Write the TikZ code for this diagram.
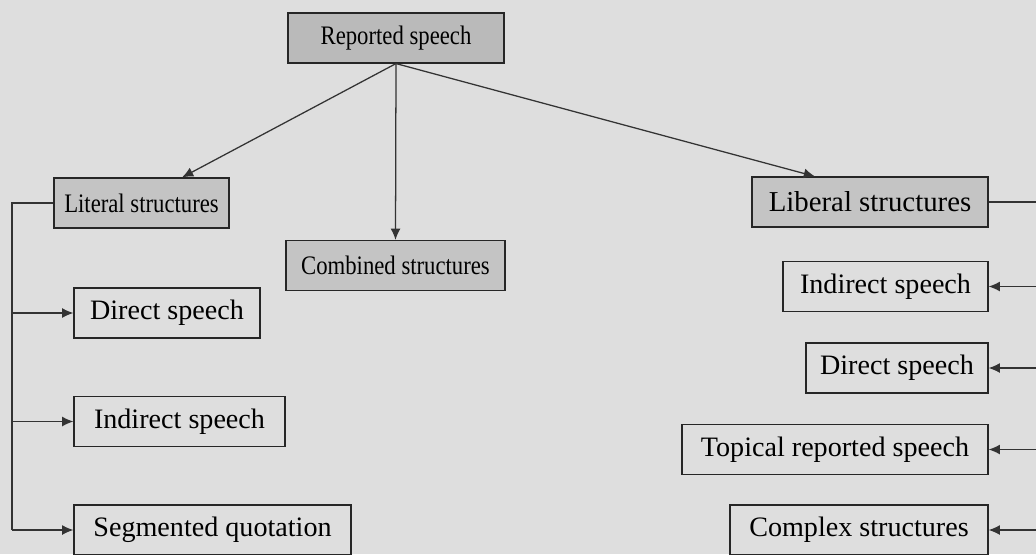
\documentclass[tikz,border=0pt]{standalone}
\usepackage{fontspec}
\usepackage{tikz}
\usetikzlibrary{arrows.meta}
\setmainfont{Liberation Serif}
\newfontfamily\condfont{Liberation Serif}[FakeStretch=0.85]
\definecolor{paper}{gray}{0.87}
\definecolor{boxgray}{gray}{0.77}
\tikzset{
  box/.style={draw=black!85, line width=0.8pt, minimum height=1.25cm,
    inner xsep=4pt, font=\fontsize{20}{24}\selectfont},
  fillbox/.style={box, fill=boxgray, font=\condfont\fontsize{19}{23}\selectfont},
  plainbox/.style={box, fill=paper},
  wd/.style={minimum width=#1*0.025cm},
  link/.style={draw=black!80, line width=0.9pt}
}

\begin{document}
\begin{tikzpicture}[x=0.025cm, y=-0.025cm]
        \fill [paper] (0, 0) rectangle (1036, 554);
        \useasboundingbox (0, 0) rectangle (1036, 554);

        % top level
        \node [fillbox, wd=216, fill=black!27] (rep) at (396, 38) {Reported speech};
        \node [fillbox, wd=175] (lit) at (141.5, 203) {Literal structures};
        \node [fillbox, wd=219] (comb) at (395.5, 265.5) {Combined structures};
        \node [box, fill=boxgray, wd=236, font=\fontsize{20.5}{24}\selectfont] (lib) at (870, 202) {Liberal structures};

        % left branch
        \node [plainbox, wd=186] (ldir) at (167, 313) {Direct speech};
        \node [plainbox, wd=211] (lind) at (179.5, 421.5) {Indirect speech};
        \node [plainbox, wd=277] (lseg) at (212.5, 530) {Segmented quotation};

        % right branch
        \node [plainbox, wd=205] (rind) at (885.5, 286.5) {Indirect speech};
        \node [plainbox, wd=182] (rdir) at (897, 368) {Direct speech};
        \node [plainbox, wd=306] (rtop) at (835, 449.5) {Topical reported speech};
        \node [plainbox, wd=258] (rcx) at (859, 530) {Complex structures};

        \coordinate (trunkL) at (12, 0);
        \coordinate (trunkR) at (1046, 0);

        \draw [link, -{Latex[length=8pt,width=7pt]}] (rep.south) -- (lit.north east -| 182, 0);
        \draw [link, -{Latex[length=8pt,width=7pt]}] (rep.south) -- (comb.north);
        \draw [link, -{Latex[length=8pt,width=7pt]}] (rep.south) -- (lib.north west -| 815, 0);

        \draw [link] (lit.west) -- (trunkL |- lit.west) -- (trunkL |- lseg.west);
        \foreach \n in {ldir, lind, lseg}
            \draw [link, -{Latex[length=8pt,width=7pt]}] (trunkL |- \n.west) -- (\n.west);

        \draw [link] (lib.east) -- (trunkR |- lib.east) -- (trunkR |- rcx.east);
        \foreach \n in {rind, rdir, rtop, rcx}
            \draw [link, -{Latex[length=8pt,width=7pt]}] (trunkR |- \n.east) -- (\n.east);
    \end{tikzpicture}
\end{document}
